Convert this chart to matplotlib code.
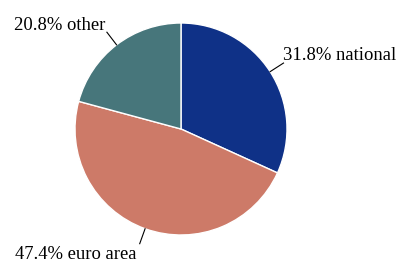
import numpy as np
import matplotlib.pyplot as plt

labels = ['national', 'euro area', 'other']
shares = [31.8, 47.4, 20.8]
colors = ['#0f3187', '#cd7a68', '#47767b']

plt.rcParams['font.family'] = ['Liberation Serif', 'DejaVu Serif']

fig = plt.figure(figsize=(3.98, 2.62), dpi=100)
ax = fig.add_axes([0, 0, 1, 1])
ax.set_xlim(0, 398)
ax.set_ylim(0, 262)
ax.axis('off')

cx, cy, r = 181, 133, 106
wedges, _ = ax.pie(shares, colors=colors, startangle=90, counterclock=False,
                   center=(cx, cy), radius=r,
                   wedgeprops=dict(edgecolor='white', linewidth=1))
ax.set_xlim(0, 398)
ax.set_ylim(0, 262)

fs = 13.4
for w, lab, s in zip(wedges, labels, shares):
    ang = np.deg2rad((w.theta1 + w.theta2) / 2)
    x0, y0 = cx + r * np.cos(ang), cy + r * np.sin(ang)
    x1, y1 = cx + 1.15 * r * np.cos(ang), cy + 1.15 * r * np.sin(ang)
    ax.plot([x0, x1], [y0, y1], color='black', lw=0.8)
    if np.cos(ang) > 0:
        ax.text(x1 - 0.5, y1 - 1, f'{s}% {lab}', ha='left', va='bottom', fontsize=fs)
    elif np.sin(ang) > 0:
        ax.text(x1 - 2, y1 - 2, f'{s}% {lab}', ha='right', va='bottom', fontsize=fs)
    else:
        ax.text(x1 - 3, y1 - 2, f'{s}% {lab}', ha='right', va='top', fontsize=fs)

fig.savefig('out.png', dpi=100)
